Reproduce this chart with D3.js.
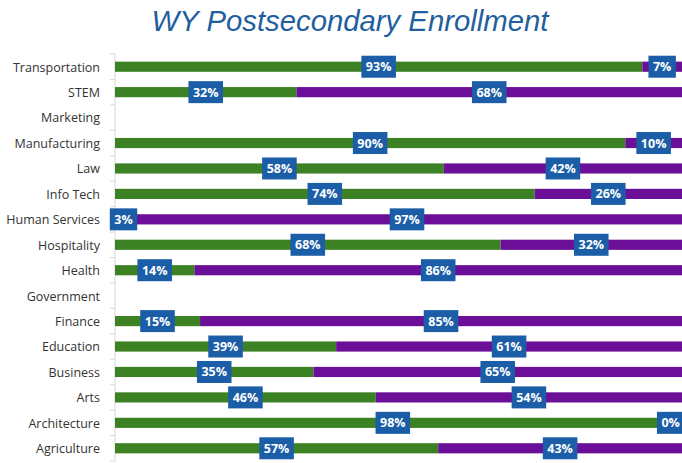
<!DOCTYPE html>
<html>
<head>
<meta charset="utf-8">
<script src="https://cdn.jsdelivr.net/npm/d3@7"></script>
<style>
  body { margin: 0; background: #fff; }
  svg { display: block; }
</style>
</head>
<body>
<svg id="vis" width="682" height="463"></svg>
<script>
// data (percent shares per program area)
const categories = ["Transportation", "STEM", "Marketing", "Manufacturing", "Law", "Info Tech",
    "Human Services", "Hospitality", "Health", "Government", "Finance", "Education",
    "Business", "Arts", "Architecture", "Agriculture"];
const greenShare = [93, 32, null, 90, 58, 74, 3, 68, 14, null, 15, 39, 35, 46, 98, 57];
const purpleShare = [7, 68, null, 10, 42, 26, 97, 32, 86, null, 85, 61, 65, 54, 0, 43];
const xDomain = [0, 100];

const GREEN = "#3c8225";
const PURPLE = "#6b0f98";
const BOXBLUE = "#1b5ea7";

const svg = d3.select("#vis");
const WIDTH = 682, HEIGHT = 463;

const x = d3.scaleLinear().domain(xDomain).range([115, 682]);
const y = d3.scaleBand().domain(categories).range([54, 461]).paddingInner(0.6).paddingOuter(0.3);
const step = y.step();

// title
svg.append("text")
    .attr("x", 350)
    .attr("y", 31)
    .attr("text-anchor", "middle")
    .attr("font-family", "Liberation Sans, Arial, sans-serif")
    .attr("font-style", "italic")
    .attr("font-size", 29.3)
    .attr("fill", "#1f5f9f")
    .text("WY Postsecondary Enrollment");

// rows: one record per category
var rows = categories.map(function (c, i) {
    return { cat: c, g: greenShare[i], p: purpleShare[i] };
});

// category axis
var axisG = svg.append("g").attr("transform", "translate(115,0)");
axisG.append("line")
    .attr("x1", 0).attr("x2", 0)
    .attr("y1", 54).attr("y2", 461)
    .attr("stroke", "#d9d9d9");
axisG.selectAll(".tick")
    .data(d3.range(categories.length + 1))
    .enter().append("line")
    .attr("class", "tick")
    .attr("x1", -5).attr("x2", 0)
    .attr("y1", function (i) { return 54 + i * step; })
    .attr("y2", function (i) { return 54 + i * step; })
    .attr("stroke", "#d9d9d9");

svg.selectAll(".cat")
    .data(categories)
    .enter().append("text")
    .attr("class", "cat")
    .attr("x", 100)
    .attr("y", function (d) { return y(d) + y.bandwidth() / 2 + 0.5; })
    .attr("dy", "0.35em")
    .attr("text-anchor", "end")
    .attr("font-family", "Open Sans, sans-serif")
    .attr("font-size", 12.5)
    .attr("fill", "#333")
    .text(function (d) { return d; });

// bars
var bars = svg.append("g");
bars.selectAll(".green")
    .data(rows.filter(function (d) { return d.g != null; }))
    .enter().append("rect")
    .attr("class", "green")
    .attr("x", x(0))
    .attr("y", function (d) { return y(d.cat); })
    .attr("width", function (d) { return x(d.g) - x(0); })
    .attr("height", y.bandwidth())
    .attr("fill", GREEN);

bars.selectAll(".purple")
    .data(rows.filter(function (d) { return d.p != null; }))
    .enter().append("rect")
    .attr("class", "purple")
    .attr("x", function (d) { return x(d.g); })
    .attr("y", function (d) { return y(d.cat); })
    .attr("width", function (d) { return x(d.g + d.p) - x(d.g); })
    .attr("height", y.bandwidth())
    .attr("fill", PURPLE);

// data labels in blue boxes, centred on each segment
var labels = [];
rows.forEach(function (d) {
    if (d.g != null) labels.push({ cat: d.cat, v: d.g, mid: (x(0) + x(d.g)) / 2 });
    if (d.p != null) labels.push({ cat: d.cat, v: d.p, mid: (x(d.g) + x(d.g + d.p)) / 2 });
});

var lab = svg.selectAll(".lab")
    .data(labels)
    .enter().append("g")
    .attr("class", "lab")
    .attr("transform", function (d) {
        return "translate(" + d.mid + "," + (y(d.cat) + y.bandwidth() / 2) + ")";
    });

var box = lab.append("rect").attr("fill", BOXBLUE);
var txt = lab.append("text")
    .attr("text-anchor", "middle")
    .attr("dy", "0.36em")
    .attr("font-family", "Open Sans, sans-serif")
    .attr("font-weight", "bold")
    .attr("font-size", 12.5)
    .attr("fill", "#fff")
    .text(function (d) { return d.v + "%"; });

txt.each(function (d) {
    d.w = this.getComputedTextLength() + 9;
});
box.attr("x", function (d) { return -d.w / 2; })
    .attr("y", -11)
    .attr("width", function (d) { return d.w; })
    .attr("height", 22);
</script>
</body>
</html>
